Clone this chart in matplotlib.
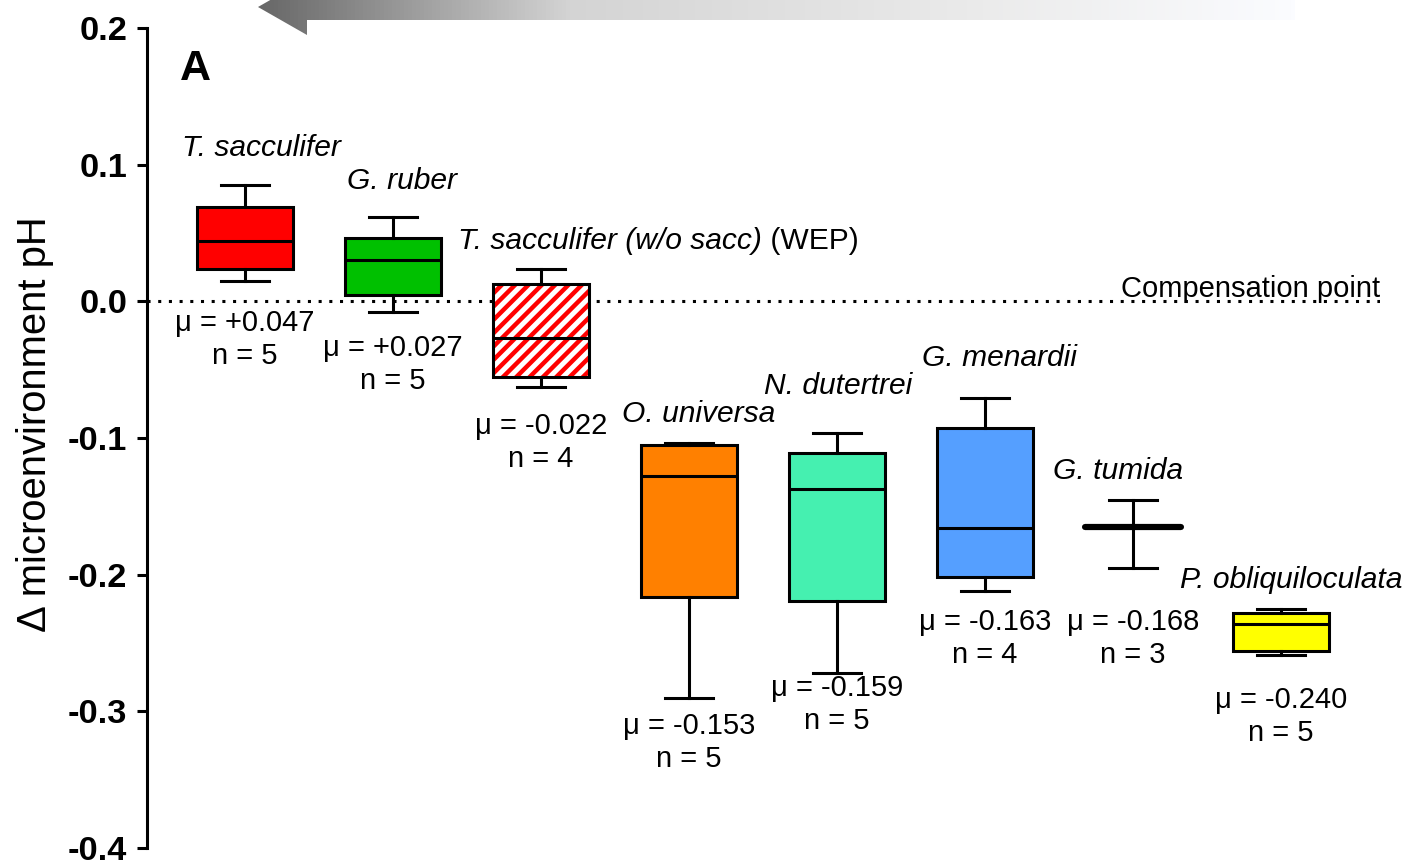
import matplotlib
matplotlib.use("Agg")
import matplotlib.pyplot as plt
import numpy as np
from matplotlib.colors import LinearSegmentedColormap
from matplotlib.patches import Polygon, PathPatch

plt.rcParams["font.family"] = ["Liberation Sans", "DejaVu Sans"]
plt.rcParams["axes.unicode_minus"] = False
plt.rcParams["hatch.linewidth"] = 1.6

# ---- data ------------------------------------------------------------------
species = ["T. sacculifer", "G. ruber", "T. sacculifer (w/o sacc)", "O. universa",
           "N. dutertrei", "G. menardii", "G. tumida", "P. obliquiloculata"]
whis_lo = [0.015, -0.008, -0.063, -0.290, -0.272, -0.212, -0.195, -0.259]
q1 = [0.024, 0.005, -0.055, -0.216, -0.219, -0.202, -0.165, -0.256]
median = [0.044, 0.030, -0.027, -0.128, -0.137, -0.166, -0.165, -0.236]
q3 = [0.069, 0.046, 0.013, -0.105, -0.111, -0.093, -0.165, -0.228]
whis_hi = [0.085, 0.062, 0.024, -0.104, -0.096, -0.071, -0.145, -0.225]
means = ["+0.047", "+0.027", "-0.022", "-0.153", "-0.159", "-0.163", "-0.168", "-0.240"]
counts = [5, 5, 4, 5, 5, 4, 3, 5]
yticks = [-0.4, -0.3, -0.2, -0.1, 0.0, 0.1, 0.2]
ytick_labels = ["-0.4", "-0.3", "-0.2", "-0.1", "0.0", "0.1", "0.2"]

colors = ["#ff0000", "#00c000", "#ffffff", "#ff8000", "#45f0b0", "#559fff", "#ffffff", "#ffff00"]

# label anchors (x in box units, y in data units)
name_xy = [(1.11, 0.106), (2.06, 0.082), (2.44, 0.038), (4.07, -0.088),
           (5.01, -0.068), (6.10, -0.047), (6.90, -0.130), (8.07, -0.210)]
stat_xy = [(1.0, -0.028), (2.0, -0.046), (3.0, -0.103), (4.0, -0.323),
           (5.0, -0.295), (6.0, -0.247), (7.0, -0.247), (8.0, -0.304)]

DPI = 200
fig = plt.figure(figsize=(1411 / DPI, 864 / DPI), dpi=DPI)

# ---- decorative gradient arrow along the top edge ---------------------------
bg = fig.add_axes([0, 0, 1, 1], zorder=0)
bg.set_xlim(0, 1411)
bg.set_ylim(864, 0)
bg.axis("off")
cmap = LinearSegmentedColormap.from_list(
    "arrow", [(0, "#676767"), (0.3, "#d4d4d4"), (0.7, "#ebebeb"), (1, "#fbfcff")])
arrow = Polygon([(258, 7), (307, -21), (307, -6), (1295, -6), (1295, 20),
                 (307, 20), (307, 35)], closed=True, facecolor="none", edgecolor="none")
bg.add_patch(arrow)
grad = np.linspace(0, 1, 256)[None, :]
im = bg.imshow(grad, cmap=cmap, extent=(258, 1295, 36, -22), aspect="auto")
im.set_clip_path(arrow)

# ---- main axes ---------------------------------------------------------------
ax = fig.add_axes([147 / 1411, 1 - 848 / 864, (1380 - 147) / 1411, (848 - 28) / 864],
                  zorder=1)
ax.patch.set_alpha(0)

stats = [dict(label=s, whislo=a, q1=b, med=c, q3=d, whishi=e)
         for s, a, b, c, d, e in zip(species, whis_lo, q1, median, q3, whis_hi)]
pos = np.arange(1, len(species) + 1)
lw = 1.1
bp = ax.bxp(stats, positions=pos, widths=0.65, capwidths=0.325, showfliers=False,
            patch_artist=True,
            boxprops=dict(linewidth=lw, edgecolor="black"),
            medianprops=dict(color="black", linewidth=lw),
            whiskerprops=dict(color="black", linewidth=lw),
            capprops=dict(color="black", linewidth=lw))
for box, c in zip(bp["boxes"], colors):
    box.set_facecolor(c)

# hatched box: red stripes, black outline drawn on top
hb = bp["boxes"][2]
hb.set_edgecolor("#ff0000")
hb.set_linewidth(0)
hb.set_hatch("/////")
ax.add_patch(PathPatch(hb.get_path(), transform=hb.get_transform(), facecolor="none",
                       edgecolor="black", linewidth=lw, zorder=hb.get_zorder() + 0.1))

# collapsed box for G. tumida drawn as a thick bar
bp["boxes"][6].set_linewidth(2.2)
bp["medians"][6].set_linewidth(2.2)
bp["medians"][6].set_solid_capstyle("round")

ax.axhline(0, color="black", linewidth=1.1, linestyle=(0, (1, 2.5)), zorder=1)
ax.text(1.0, 0.0035, "Compensation point", transform=ax.get_yaxis_transform(),
        ha="right", va="baseline", fontsize=10.5)

ax.set_xlim(0.34, 8.67)
ax.set_ylim(-0.4, 0.2)
ax.set_yticks(yticks)
ax.set_yticklabels(ytick_labels, fontweight="bold", fontsize=12.4)
ax.tick_params(axis="y", length=3.6, width=1.1, pad=3.5, direction="out")
ax.set_xticks([])
for side in ("top", "right", "bottom"):
    ax.spines[side].set_visible(False)
ax.spines["left"].set_linewidth(1.1)

# labels
for i, (name, (x, y)) in enumerate(zip(species, name_xy)):
    if i == 2:
        t = ax.text(x, y, name, style="italic", fontsize=10.8, ha="left", va="baseline")
        ax.annotate(" (WEP)", xy=(1, 0), xycoords=t, ha="left", va="bottom",
                    fontsize=10.8)
    else:
        ax.text(x, y, name, style="italic", fontsize=10.8, ha="center", va="baseline")
for m, n, (x, y) in zip(means, counts, stat_xy):
    ax.text(x, y, f"\u03bc = {m}\nn = {n}", ha="center", va="center",
            multialignment="center", fontsize=10.5, linespacing=1.22)

ax.text(0.561, 0.162, "A", fontsize=15.5, fontweight="bold", ha="left", va="baseline")
fig.text(35 / 1411, 1 - 424 / 864, "\u0394 microenvironment pH", rotation=90,
         ha="center", va="center", fontsize=14.4)

fig.savefig("out.png", dpi=DPI)
